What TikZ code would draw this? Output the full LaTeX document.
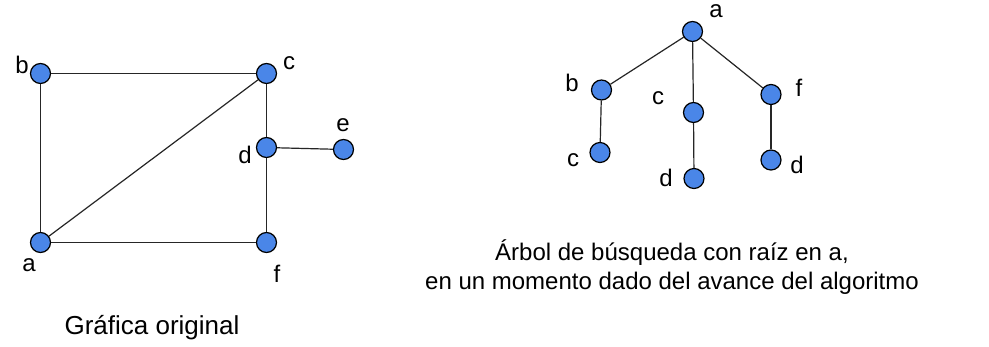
\documentclass[tikz,border=0pt]{standalone}
\usepackage{fontspec}
\setmainfont{Liberation Sans}
\definecolor{nodeblue}{HTML}{4A86E8}
\begin{document}
\begin{tikzpicture}[x=1pt,y=-1pt,
  vtx/.style={circle,draw=black,fill=nodeblue,line width=1.2pt,minimum size=20pt,inner sep=0pt},
  lbl/.style={font=\fontsize{24}{29}\selectfont,inner sep=0pt},
  edge/.style={line width=1.2pt,draw=black!85}]
\useasboundingbox[fill=white] (0,0) rectangle (989,346);
% left graph
\node[vtx] (a) at (40.5,242.5) {};
\node[vtx] (b) at (40.5,73.5) {};
\node[vtx] (c) at (266.5,73.5) {};
\node[vtx] (d) at (266.5,147.5) {};
\node[vtx] (e) at (343.5,149.5) {};
\node[vtx] (f) at (266.5,242.5) {};
\draw[edge] (b) -- (c);
\draw[edge] (b) -- (a);
\draw[edge] (a) -- (c);
\draw[edge] (a) -- (f);
\draw[edge] (c) -- (d);
\draw[edge] (d) -- (f);
\draw[edge] (d) -- (e);
\node[lbl] (la) at (29,265) {a};
\node[lbl] (lb) at (22,65) {b};
\node[lbl] (lc) at (289,63) {c};
\node[lbl] (ld) at (245,155) {d};
\node[lbl] (le) at (343,125) {e};
\node[lbl] (lf) at (277,274) {f};
\node[lbl,font=\fontsize{26}{30}\selectfont] (cap1) at (152,328) {Gráfica original};
% tree
\node[vtx] (ta) at (692.5,31.5) {};
\node[vtx] (tb) at (601.5,90) {};
\node[vtx] (tc1) at (600,152.5) {};
\node[vtx] (tc2) at (693.5,112.5) {};
\node[vtx] (td2) at (694,178.5) {};
\node[vtx] (tf) at (771,94.5) {};
\node[vtx] (td3) at (771,160) {};
\draw[edge] (ta) -- (tb);
\draw[edge] (ta) -- (tc2);
\draw[edge] (ta) -- (tf);
\draw[edge] (tb) -- (tc1);
\draw[edge] (tc2) -- (td2);
\draw[edge] (tf) -- (td3);
\node[lbl] (lta) at (716,11) {a};
\node[lbl] (ltb) at (572,83) {b};
\node[lbl] (ltc1) at (573,160) {c};
\node[lbl] (ltc2) at (658,98) {c};
\node[lbl] (ltd2) at (666,178) {d};
\node[lbl] (ltf) at (799,88) {f};
\node[lbl] (ltd3) at (797,165) {d};
\node[lbl,align=center] (cap2) at (672,267) {Árbol de búsqueda con raíz en a,\\ en un momento dado del avance del algoritmo};
\end{tikzpicture}
\end{document}
